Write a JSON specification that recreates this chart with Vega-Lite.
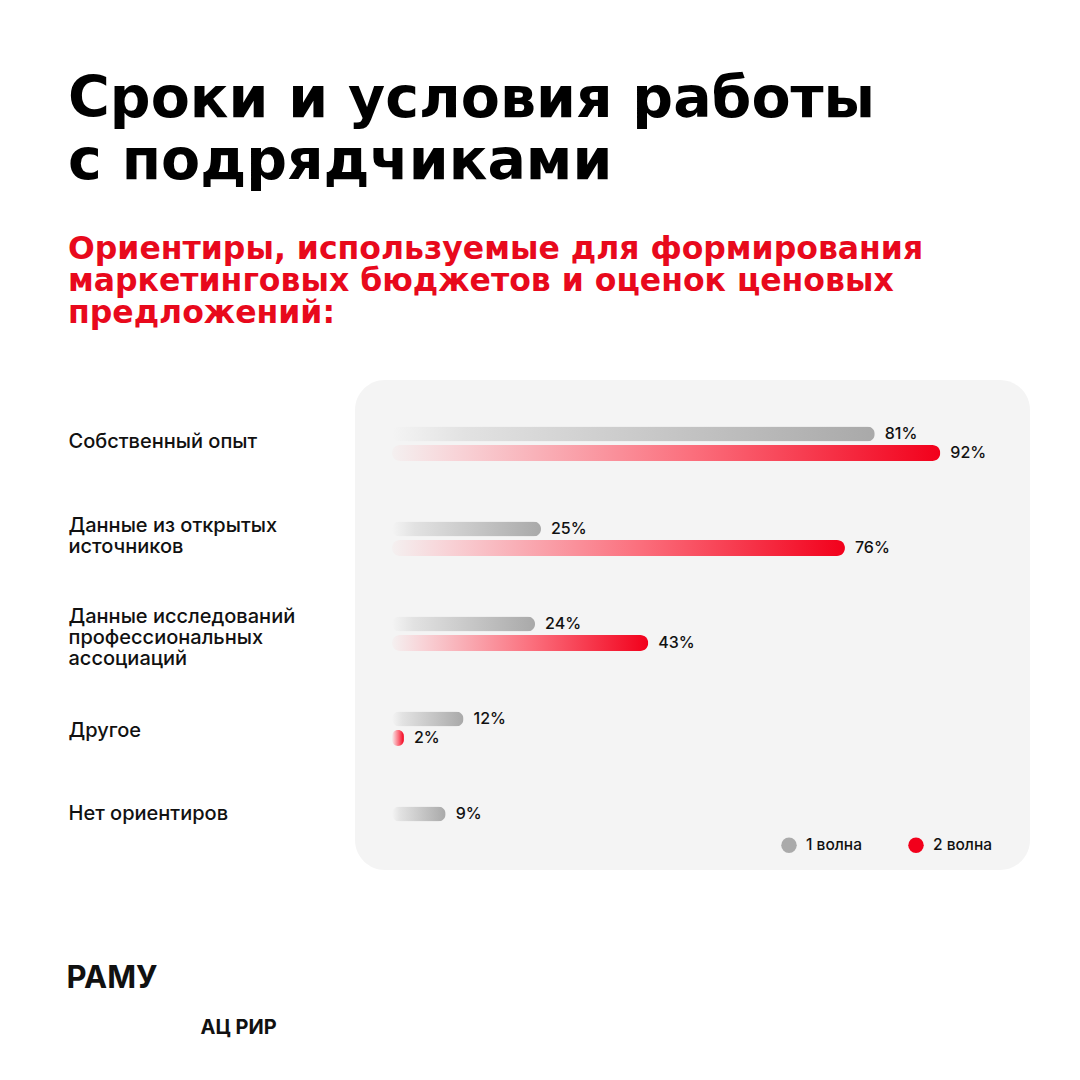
{
  "$schema": "https://vega.github.io/schema/vega-lite/v6.json",
  "width": 675,
  "height": 490,
  "autosize": {"type": "none"},
  "padding": {"left": 355, "top": 380, "right": 50, "bottom": 210},
  "background": "#ffffff",
  "title": {
    "text": ["Сроки и условия работы", "с подрядчиками"],
    "subtitle": ["Ориентиры, используемые для формирования", "маркетинговых бюджетов и оценок ценовых", "предложений:"],
    "anchor": "start",
    "frame": "group",
    "dx": -287,
    "offset": 50,
    "font": "DejaVu Sans",
    "fontSize": 57,
    "fontWeight": "bold",
    "lineHeight": 62,
    "color": "#000000",
    "subtitleFont": "DejaVu Sans",
    "subtitleFontSize": 31.5,
    "subtitleFontWeight": "bold",
    "subtitleLineHeight": 32,
    "subtitleColor": "#e8091c",
    "subtitlePadding": 43
  },
  "data": {
    "values": [
      {"group": "Собственный опыт", "wave": "1 волна", "value": 0.81},
      {"group": "Собственный опыт", "wave": "2 волна", "value": 0.92},
      {"group": "Данные из открытых|источников", "wave": "1 волна", "value": 0.25},
      {"group": "Данные из открытых|источников", "wave": "2 волна", "value": 0.76},
      {"group": "Данные исследований|профессиональных|ассоциаций", "wave": "1 волна", "value": 0.24},
      {"group": "Данные исследований|профессиональных|ассоциаций", "wave": "2 волна", "value": 0.43},
      {"group": "Другое", "wave": "1 волна", "value": 0.12},
      {"group": "Другое", "wave": "2 волна", "value": 0.02},
      {"group": "Нет ориентиров", "wave": "1 волна", "value": 0.09}
    ]
  },
  "encoding": {
    "y": {
      "field": "group",
      "type": "nominal",
      "sort": null,
      "scale": {"range": [16, 491], "paddingInner": 0, "paddingOuter": 0},
      "axis": {
        "domain": false,
        "ticks": false,
        "grid": false,
        "labelPadding": 287,
        "labelAlign": "left",
        "labelBaseline": "middle",
        "labelFont": "Inter",
        "labelFontSize": 20,
        "labelFontWeight": 500,
        "labelColor": "#111111",
        "labelLineHeight": 21,
        "labelLimit": 400,
        "labelExpr": "split(datum.label, '|')",
        "labelOffset": {
          "condition": [
            {"test": "datum.value === 'Собственный опыт'", "value": -2},
            {"test": "datum.value === 'Другое'", "value": 2},
            {"test": "datum.value === 'Нет ориентиров'", "value": -10},
            {"test": "datum.value === 'Данные из открытых|источников'", "value": -13}
          ],
          "value": -17
        },
        "title": "АЦ РИР",
        "titleAngle": 0,
        "titleAlign": "left",
        "titleBaseline": "middle",
        "titleX": -155,
        "titleY": 647,
        "titleFont": "Inter",
        "titleFontSize": 20,
        "titleFontWeight": "bold",
        "titleColor": "#111111"
      }
    },
    "yOffset": {
      "field": "wave",
      "type": "nominal",
      "scale": {"domain": ["1 волна", "2 волна"], "range": [28.5, 66.5], "paddingInner": 0, "paddingOuter": 0}
    },
    "x": {
      "field": "value",
      "type": "quantitative",
      "scale": {"domain": [0, 1], "range": [37, 633], "nice": false},
      "axis": {
        "labels": false,
        "ticks": false,
        "domain": false,
        "grid": false,
        "title": "РАМУ",
        "titleX": -289,
        "titleY": 108,
        "titleAlign": "left",
        "titleBaseline": "middle",
        "titleFont": "Inter",
        "titleFontSize": 31,
        "titleFontWeight": "bold",
        "titleColor": "#111111"
      }
    }
  },
  "layer": [
    {
      "transform": [{"filter": "datum.wave === '1 волна'"}],
      "mark": {
        "type": "bar",
        "height": 15,
        "cornerRadius": 7.5,
        "color": {
          "gradient": "linear",
          "x1": 0, "y1": 0, "x2": 1, "y2": 0,
          "stops": [
            {"offset": 0, "color": "#f4f4f4"},
            {"offset": 0.15, "color": "#e2e2e2"},
            {"offset": 1, "color": "#a9a9a9"}
          ]
        }
      }
    },
    {
      "transform": [{"filter": "datum.wave === '2 волна'"}],
      "mark": {
        "type": "bar",
        "height": 16,
        "cornerRadius": 8,
        "color": {
          "gradient": "linear",
          "x1": 0, "y1": 0, "x2": 1, "y2": 0,
          "stops": [
            {"offset": 0, "color": "#f4f0f0"},
            {"offset": 0.12, "color": "#f8d3d7"},
            {"offset": 0.55, "color": "#fb6e7c"},
            {"offset": 1, "color": "#f2001b"}
          ]
        }
      }
    },
    {
      "mark": {"type": "text", "align": "left", "baseline": "middle", "dx": 10, "font": "Inter", "fontSize": 16, "fontWeight": 500, "color": "#111111"},
      "encoding": {
        "text": {"field": "value", "type": "quantitative", "format": ".0%"}
      }
    },
    {
      "mark": {"type": "point", "filled": true, "opacity": 0},
      "encoding": {
        "color": {
          "field": "wave",
          "type": "nominal",
          "scale": {"domain": ["1 волна", "2 волна"], "range": ["#aaaaaa", "#f2001b"]},
          "legend": {
            "orient": "none",
            "legendX": 426,
            "legendY": 457,
            "direction": "horizontal",
            "title": null,
            "symbolType": "circle",
            "symbolSize": 240,
            "symbolOpacity": 1,
            "symbolStrokeWidth": 0,
            "labelFont": "Inter",
            "labelFontSize": 15.5,
            "labelFontWeight": 500,
            "labelColor": "#111111",
            "labelOffset": 9,
            "columnPadding": 46
          }
        }
      }
    }
  ],
  "config": {
    "view": {"fill": "#f4f4f4", "cornerRadius": 30, "stroke": null}
  }
}
